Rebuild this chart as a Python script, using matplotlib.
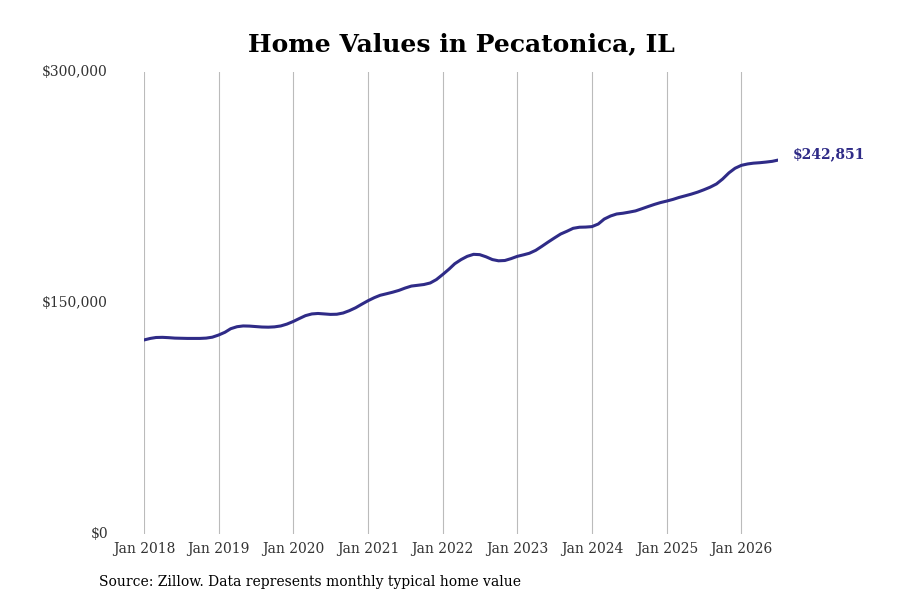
import matplotlib
matplotlib.use("Agg")
import matplotlib.pyplot as plt
import pandas as pd

values = [
    126000, 127000, 127600, 127700, 127500, 127200, 127100, 127000, 127000, 127000, 127200, 127800,
    129200, 131000, 133300, 134600, 135100, 135000, 134700, 134400, 134300, 134500, 135100, 136300,
    138000, 140000, 141800, 142900, 143200, 142900, 142600, 142700, 143500, 145000, 146900, 149200,
    151500, 153500, 155000, 156000, 157000, 158200, 159700, 161000, 161500, 162000, 163000, 165200,
    168500, 172000, 175500, 178200, 180300, 181600, 181400, 180000, 178200, 177400, 177600, 178800,
    180300, 181300, 182300, 184200, 186800, 189600, 192200, 194800, 196600, 198500, 199200, 199300,
    199600, 201300, 204500, 206500, 207800, 208300, 209000, 209800, 211200, 212600, 214000, 215200,
    216200, 217300, 218500, 219600, 220700, 222000, 223500, 225200, 227300, 230500, 234500, 237500,
    239400, 240300, 240800, 241100, 241500, 242000, 242851,
]
dates = pd.date_range("2018-01-01", periods=len(values), freq="MS")
tick_years = list(range(2018, 2027))
tick_labels = [f"Jan {y}" for y in tick_years]
y_ticks = [0, 150000, 300000]
y_labels = ["$0", "$150,000", "$300,000"]
end_label = "$242,851"
title = "Home Values in Pecatonica, IL"
source = "Source: Zillow. Data represents monthly typical home value"

line_color = "#2f2b87"
plt.rcParams['font.family'] = ['DejaVu Serif']

fig = plt.figure(figsize=(9, 6), dpi=100)
ax = fig.add_axes([144/900, 66/600, (778.4-144)/900, 462/600])
ax.plot(dates, values, color=line_color, lw=2.2, solid_capstyle='round')
ax.set_xlim(dates[0], dates[-1])
ax.set_ylim(0, 300000)
ticks = [pd.Timestamp(f"{y}-01-01") for y in tick_years]
ax.set_xticks(ticks)
ax.set_xticklabels(tick_labels, fontsize=10, color="#333333")
ax.set_yticks(y_ticks)
ax.set_yticklabels(y_labels, fontsize=10, color="#333333")
ax.tick_params(axis='x', length=0, pad=6)
ax.tick_params(axis='y', length=0, pad=26)
for lab in ax.get_yticklabels():
    lab.set_verticalalignment('center')
ax.grid(axis='x', color="#bbbbbb", lw=0.8)
ax.grid(axis='y', visible=False)
for s in ax.spines.values():
    s.set_visible(False)

ax.annotate(end_label, xy=(dates[-1], values[-1]), xytext=(10, 4), textcoords='offset points',
            fontsize=10, fontweight='bold', color=line_color, va='center', ha='left',
            annotation_clip=False)

fig.text(461/900, 1 - 44/600, title, ha='center', va='center', fontsize=18, fontweight='bold')
fig.text(99/900, 1 - 582/600, source, ha='left', va='center', fontsize=10, color='black')

fig.savefig("out.png", dpi=100)
